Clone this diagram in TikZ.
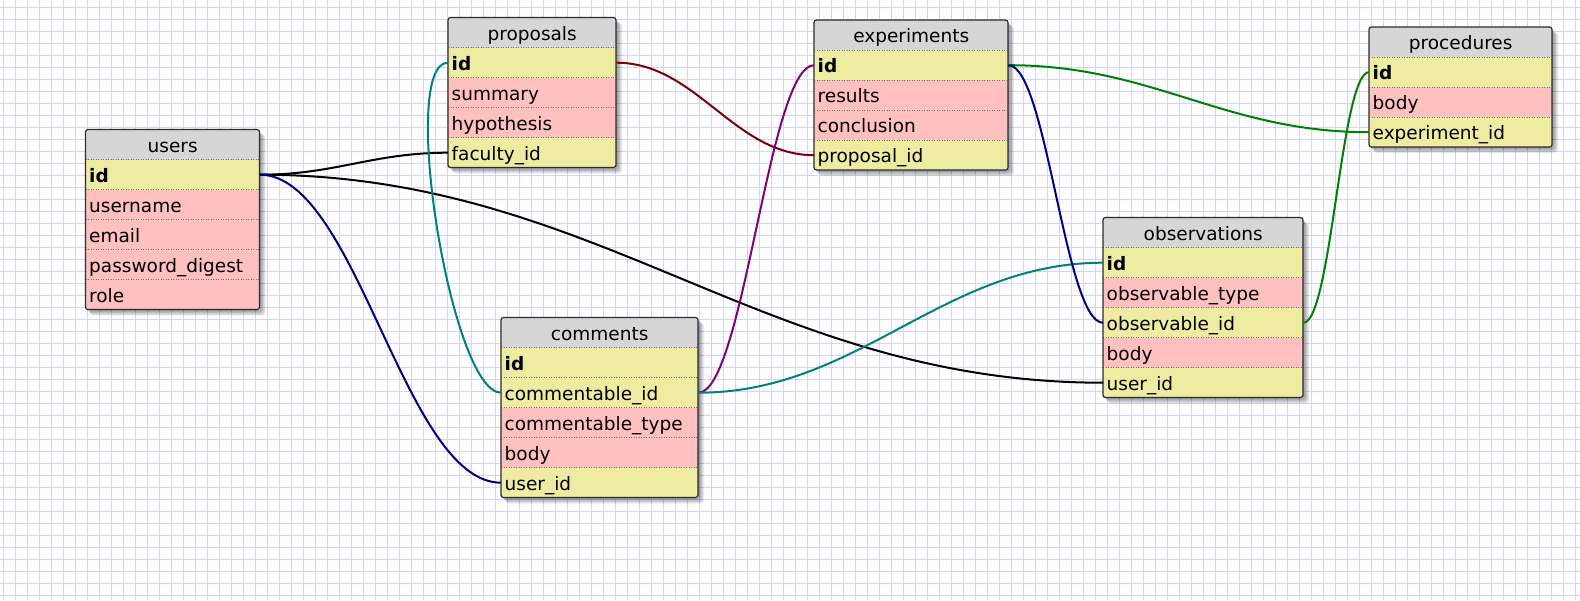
\documentclass[tikz,border=0pt]{standalone}
\usepackage{fontspec}
\setmainfont{DejaVu Sans}
\definecolor{rowkey}{RGB}{238,236,160}
\definecolor{rowattr}{RGB}{255,192,192}
\definecolor{headgray}{RGB}{214,214,214}
\definecolor{gridblue}{RGB}{212,212,246}
\definecolor{framegray}{RGB}{45,45,45}
\definecolor{linknavy}{RGB}{0,0,128}
\definecolor{linkteal}{RGB}{0,128,128}
\definecolor{linkred}{RGB}{128,0,0}
\definecolor{linkpurple}{RGB}{128,0,128}
\definecolor{linkgreen}{RGB}{0,128,0}
\tikzset{
  cell/.style={anchor=north west, minimum height=30pt, inner xsep=3.5pt, inner ysep=0pt,
    text height=15pt, text depth=0pt, align=left, font=\fontsize{18.5}{20}\selectfont},
  tblhead/.style={cell, fill=headgray, align=center},
  pkrow/.style={fill=rowkey, font=\fontsize{18.5}{20}\selectfont\bfseries},
  fkrow/.style={fill=rowkey},
  atrow/.style={fill=rowattr},
  rowsep/.style={draw=black!55, line width=0.8pt, dash pattern=on 1pt off 1.5pt},
  tblframe/.style={draw=framegray, line width=1.2pt, rounded corners=2.5pt},
  link/.style={line width=2pt},
  gridline/.style={draw=gridblue, line width=1pt},
}
% name, x, y, width, rows, header, row list
\newcommand\dbtable[7]{%
  \pgfmathsetmacro\tblh{30*(#5+1)}
  \pgfmathsetmacro\tblw{#4-7}
  \foreach \s in {1,...,6}
    \fill[black, opacity=0.08, rounded corners=3pt] (#2+\s-1,#3+\s) rectangle (#2+#4+\s,#3+\tblh+\s);
  \node[tblhead, text width=\tblw pt] (#1) at (#2,#3) {#6};
  \foreach \lbl/\nm/\kind [count=\i] in {#7} {
    \node[cell, \kind, text width=\tblw pt] (#1-\nm) at (#2,#3+30*\i) {\lbl};
    \draw[rowsep] (#2,#3+30*\i) -- (#2+#4,#3+30*\i);
  }
  \draw[tblframe] (#2,#3) rectangle (#2+#4,#3+\tblh);
}

\begin{document}
\begin{tikzpicture}[x=1pt, y=-1pt]
  %%%%% START %%%%%

  \useasboundingbox (0,0) rectangle (1580,600);
  \fill[white] (0,0) rectangle (1580,600);
  \foreach \gx in {3.3,15.3,...,1580} \draw[gridline] (\gx,0) -- (\gx,600);
  \foreach \gy in {7.3,19.3,...,600} \draw[gridline] (0,\gy) -- (1580,\gy);

  \dbtable{users}{85.5}{129.5}{174}{5}{users}{id/id/pkrow, username/username/atrow,
    email/email/atrow, password\_digest/digest/atrow, role/role/atrow}
  \dbtable{prop}{448}{17.5}{168}{4}{proposals}{id/id/pkrow, summary/summary/atrow,
    hypothesis/hypothesis/atrow, faculty\_id/faculty/fkrow}
  \dbtable{expt}{814}{20}{194}{4}{experiments}{id/id/pkrow, results/results/atrow,
    conclusion/conclusion/atrow, proposal\_id/proposal/fkrow}
  \dbtable{proc}{1369}{27}{183}{3}{procedures}{id/id/pkrow, body/body/atrow,
    experiment\_id/experiment/fkrow}
  \dbtable{comm}{501}{317.5}{197}{5}{comments}{id/id/pkrow, commentable\_id/cid/fkrow,
    commentable\_type/ctype/atrow, body/body/atrow, user\_id/user/fkrow}
  \dbtable{obs}{1103}{217.5}{200}{5}{observations}{id/id/pkrow, observable\_type/otype/atrow,
    observable\_id/oid/fkrow, body/body/atrow, user\_id/user/fkrow}

  % relations
  \draw[link, black] (users-id.east) .. controls +(76,0) and +(-76,0) .. (prop-faculty.west);
  \draw[link, black] (users-id.east) .. controls +(340,0) and +(-340,0) .. (obs-user.west);
  \draw[link, linknavy] (users-id.east) .. controls +(97,0) and +(-97,0) .. (comm-user.west);
  \draw[link, linkteal] (prop-id.west) .. controls +(-50,0) and +(-50,0) .. (comm-cid.west);
  \draw[link, linkred] (prop-id.east) .. controls +(80,0) and +(-80,0) .. (expt-proposal.west);
  \draw[link, linkpurple] (comm-cid.east) .. controls +(45,0) and +(-45,0) .. (expt-id.west);
  \draw[link, linkteal] (comm-cid.east) .. controls +(160,0) and +(-160,0) .. (obs-id.west);
  \draw[link, linkgreen] (expt-id.east) .. controls +(145,0) and +(-145,0) .. (proc-experiment.west);
  \draw[link, linknavy] (expt-id.east) .. controls +(38,0) and +(-38,0) .. (obs-oid.west);
  \draw[link, linkgreen] (obs-oid.east) .. controls +(28,0) and +(-28,0) .. (proc-id.west);

  %%%%% END %%%%%
\end{tikzpicture}
\end{document}
